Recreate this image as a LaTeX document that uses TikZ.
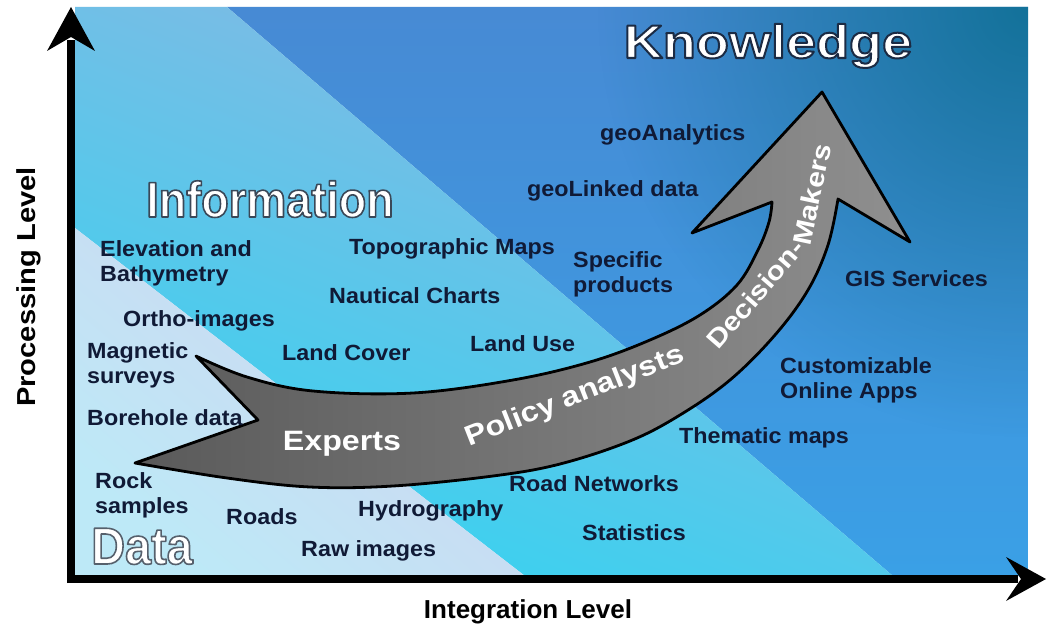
\documentclass[tikz,border=0pt]{standalone}
\usepackage{fontspec}
\setmainfont{Liberation Sans}
\newfontfamily\widef[FakeStretch=1.15]{Liberation Sans}
\newfontfamily\lblf[FakeStretch=1.06]{Liberation Sans}
\newfontfamily\condf[FakeStretch=0.9]{Liberation Sans}
\newfontfamily\axisf{Liberation Sans}
\newfontfamily\procf[FakeStretch=1.12]{Liberation Sans}
\usetikzlibrary{fadings}
\definecolor{lblcol}{HTML}{101A36}
\definecolor{knowtop}{HTML}{478AD4}
\definecolor{knowbot}{HTML}{3AA0E6}
\definecolor{knowteal}{HTML}{13729A}
\definecolor{infolight}{HTML}{8CB6E2}
\definecolor{infocyan}{HTML}{35D3F0}
\definecolor{datalav}{HTML}{D1D4EF}
\definecolor{datacyan}{HTML}{BDE9F7}
\definecolor{arrdark}{HTML}{5A5A5A}
\definecolor{arrlight}{HTML}{8F8F8F}
\tikzfading[name=cornerglow, inner color=transparent!0, outer color=transparent!100]
% outlined (fill + stroke) text via PDF text rendering mode 2
\newcommand\outl[3]{\special{pdf:literal direct 2 Tr #2 w 1 j #1 RG}#3\special{pdf:literal direct 0 Tr}}
\newcommand\lblfont{\lblf\bfseries\fontsize{22}{25}\selectfont}
\newcommand\decfont{\widef\bfseries\fontsize{26}{28}\selectfont}
\begin{document}
\begin{tikzpicture}[x=1pt,y=-1pt,
  lbl/.style={font=\lblfont, text=lblcol, inner sep=0, anchor=base west},
  lbltwo/.style={font=\lblfont, text=lblcol, inner sep=0, anchor=west, align=left},
  arrlbl/.style={text=white, inner sep=0, font=\widef\bfseries\fontsize{28}{30}\selectfont},
  declbl/.style={text=white, inner sep=0, font=\decfont, anchor=base west},
  titlelbl/.style={text=white, inner sep=0, anchor=base},
  axisline/.style={line width=8pt, black}]
\useasboundingbox (0,0) rectangle (1047,634);
\fill[white] (0,0) rectangle (1047,634);

% ---- background bands ----
\coordinate (pTL) at (75,7);
\coordinate (pTR) at (1028,7);
\coordinate (pBR) at (1028,576);
\coordinate (pBL) at (75,576);
\coordinate (kTop) at (227,7);
\coordinate (kBot) at (893,576);
\coordinate (dTop) at (75,228);
\coordinate (dBot) at (525,576);

\shade[top color=knowtop, bottom color=knowbot] (kTop) -- (pTR) -- (pBR) -- (kBot) -- cycle;
\begin{scope}
  \clip (kTop) -- (pTR) -- (pBR) -- (kBot) -- cycle;
  \fill[knowteal, path fading=cornerglow] (pTR) circle (430pt);
\end{scope}
\shade[top color=infolight, bottom color=infocyan, shading angle=-22]
  (pTL) -- (kTop) -- (kBot) -- (dBot) -- (dTop) -- cycle;
\shade[top color=datalav, bottom color=datacyan, shading angle=-40]
  (dTop) -- (dBot) -- (pBL) -- cycle;

% ---- axes ----
\coordinate (origin) at (71,579);
\coordinate (yend) at (71,40);
\coordinate (xend) at (1018,579);
\draw[axisline] (71,583) -- (yend);
\draw[axisline] (67,579) -- (xend);
\fill[black] (71,7) -- (95,51) -- (71,37) -- (47,51) -- cycle;
\fill[black] (1046,579) -- (1006,601) -- (1021,579) -- (1006,557) -- cycle;

% ---- big curved arrow ----
\shadedraw[left color=arrdark, right color=arrlight, draw=black, line width=2.8pt, line join=round]
  (196,356)
  -- plot[smooth, tension=0.6] coordinates {(196,356) (247,377) (313,391) (413,393) (513,380) (590,362) (650,340) (700,315) (737,285) (758,250) (769,222) (772,202)}
  -- (692,233) -- (822,92) -- (910,242) -- (838,199)
  -- plot[smooth, tension=0.6] coordinates {(838,199) (828,245) (808,290) (775,335) (730,380) (680,415) (630,441) (560,464) (493,476) (393,486) (310,487) (227,478) (135,463)}
  -- (258,420) -- cycle;

\node[arrlbl, anchor=base] (experts) at (342,450) {Experts};
\node[arrlbl, rotate=21.5] (policy) at (575,397) {Policy analysts};
\node[declbl, rotate=49] (decision) at (718,351) {Decision-};
\node[declbl, rotate=78] (makers) at (810,247) {Makers};

% ---- titles ----
\node[titlelbl, font=\widef\bfseries\fontsize{47}{50}\selectfont] (know) at (768,58) {\outl{0.106 0.169 0.267}{2}{Knowledge}};
\node[titlelbl, font=\condf\bfseries\fontsize{50}{54}\selectfont] (info) at (270,217) {\outl{0.227 0.282 0.345}{1.6}{Information}};
\node[titlelbl, font=\condf\bfseries\fontsize{52}{56}\selectfont] (data) at (142,564) {\outl{0.337 0.376 0.424}{1.6}{Data}};

% ---- axis labels ----
\node[text=black, inner sep=0, font=\procf\bfseries\fontsize{26}{28}\selectfont, rotate=90] (proc) at (29,287) {Processing Level};
\node[text=black, inner sep=0, font=\axisf\bfseries\fontsize{26}{28}\selectfont] (integ) at (528,612) {Integration Level};

% ---- labels ----
\node[lbl] (geoan) at (600,140) {geoAnalytics};
\node[lbl] (geolink) at (527,196) {geoLinked data};
\node[lbl] (topo) at (349,254) {Topographic Maps};
\node[lbl] (naut) at (329,303) {Nautical Charts};
\node[lbl] (gis) at (845,286) {GIS Services};
\node[lbl] (ortho) at (123,326) {Ortho-images};
\node[lbl] (landcover) at (282,360) {Land Cover};
\node[lbl] (landuse) at (470,351) {Land Use};
\node[lbl] (bore) at (87,425) {Borehole data};
\node[lbl] (thematic) at (679,443) {Thematic maps};
\node[lbl] (roadnet) at (509,491) {Road Networks};
\node[lbl] (roads) at (226,524) {Roads};
\node[lbl] (hydro) at (358,516) {Hydrography};
\node[lbl] (stats) at (582,540) {Statistics};
\node[lbl] (raw) at (301,556) {Raw images};

\node[lbltwo] (specific) at (573,274) {Specific\\products};
\node[lbltwo] (elev) at (100,263) {Elevation and\\Bathymetry};
\node[lbltwo] (magnetic) at (87,365) {Magnetic\\surveys};
\node[lbltwo] (custom) at (780,380) {Customizable\\Online Apps};
\node[lbltwo] (rock) at (95,495) {Rock\\samples};
\end{tikzpicture}
\end{document}
